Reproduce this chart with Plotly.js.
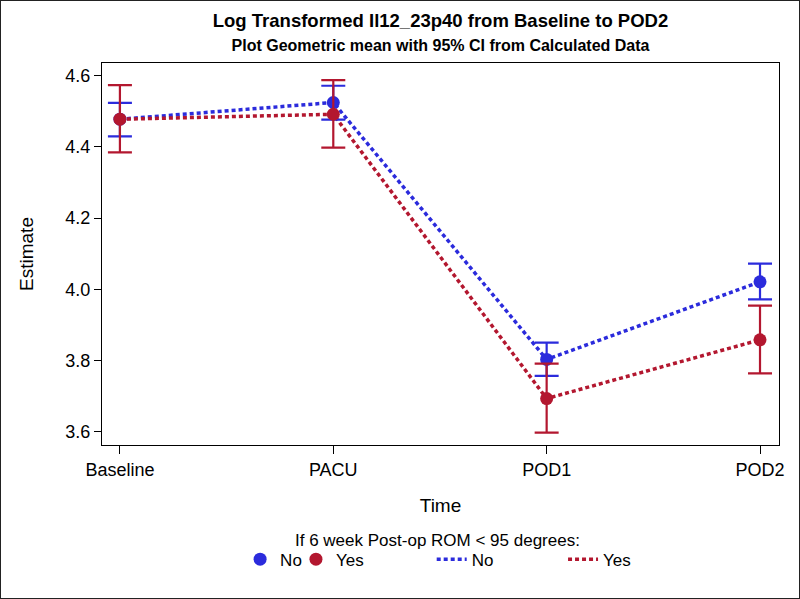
<!DOCTYPE html>
<html>
<head>
<meta charset="utf-8">
<script src="https://cdn.plot.ly/plotly-3.0.1.min.js"></script>
<style>
  body { margin: 0; background: #fff; }
  #plot { width: 798px; height: 597px; border: 1px solid #222; }
</style>
</head>
<body>
<div id="plot"></div>
<script>
////////// DATA ///////////////
const timePoints = ['Baseline', 'PACU', 'POD1', 'POD2'];

const estNo    = [4.478, 4.525, 3.803, 4.021];
const upperNo  = [4.524, 4.572, 3.850, 4.072];
const lowerNo  = [4.430, 4.477, 3.757, 3.972];

const estYes   = [4.478, 4.492, 3.693, 3.858];
const upperYes = [4.574, 4.588, 3.791, 3.954];
const lowerYes = [4.385, 4.398, 3.597, 3.764];

const yTicks = [3.6, 3.8, 4.0, 4.2, 4.4, 4.6];

////////// STYLE ///////////////
const blue = '#2b2bdc';
const red = '#b3172f';
const fontFam = '"Liberation Sans", Arial, sans-serif';

// asymmetric error bar lengths from the CI limits
function plus(up, est) { return up.map(function(u, i) { return u - est[i]; }); }
function minus(lo, est) { return lo.map(function(l, i) { return est[i] - l; }); }

// each legend entry gets its own legend so the spacing can follow the SAS one
let data = [
  {
    x: timePoints, y: estNo, type: 'scatter', mode: 'lines', name: 'No',
    legend: 'legend3',
    line: { color: blue, width: 3.5, dash: '4px,3px' }
  },
  {
    x: timePoints, y: estYes, type: 'scatter', mode: 'lines', name: 'Yes',
    legend: 'legend4',
    line: { color: red, width: 3.5, dash: '4px,3px' }
  },
  {
    x: timePoints, y: estNo, type: 'scatter', mode: 'markers', name: 'No',
    legend: 'legend',
    marker: { color: blue, size: 13 },
    error_y: { type: 'data', symmetric: false, array: plus(upperNo, estNo),
               arrayminus: minus(lowerNo, estNo), color: blue, thickness: 2.2, width: 12 }
  },
  {
    x: timePoints, y: estYes, type: 'scatter', mode: 'markers', name: 'Yes',
    legend: 'legend2',
    marker: { color: red, size: 13 },
    error_y: { type: 'data', symmetric: false, array: plus(upperYes, estYes),
               arrayminus: minus(lowerYes, estYes), color: red, thickness: 2.2, width: 12 }
  }
];

function legendAt(xPos) {
  return {
    orientation: 'h',
    x: xPos, xanchor: 'left',
    y: -0.30, yanchor: 'middle',
    font: { size: 17 },
    itemclick: false,
    bgcolor: 'rgba(0,0,0,0)'
  };
}

let layout = {
  width: 798,
  height: 597,
  margin: { l: 101, r: 20, t: 62, b: 153 },
  paper_bgcolor: '#fff',
  plot_bgcolor: '#fff',
  font: { family: fontFam, size: 18, color: '#000' },
  showlegend: true,
  title: {
    text: '<b>Log Transformed Il12_23p40 from Baseline to POD2</b><br>' +
          '<span style="font-size:16px"><b>Plot Geometric mean with 95% CI from Calculated Data</b></span>',
    font: { family: fontFam, size: 18.5, color: '#000' },
    x: 0.5, xref: 'paper', xanchor: 'center',
    y: 0.957, yref: 'container', yanchor: 'middle'
  },
  xaxis: {
    type: 'category',
    range: [-0.084, 3.089],
    title: { text: 'Time', font: { size: 19 }, standoff: 20 },
    ticks: 'outside', ticklen: 8, tickcolor: '#000',
    tickfont: { size: 18 },
    showline: true, mirror: true, linecolor: '#000', linewidth: 1,
    showgrid: false, zeroline: false
  },
  yaxis: {
    range: [3.5625, 4.636],
    tickvals: yTicks,
    tickformat: '.1f',
    title: { text: 'Estimate', font: { size: 19 }, standoff: 26 },
    ticks: 'outside', ticklen: 7, tickcolor: '#000',
    tickfont: { size: 18 },
    showline: true, mirror: true, linecolor: '#000', linewidth: 1,
    showgrid: false, zeroline: false
  },
  legend: legendAt(0.204),
  legend2: legendAt(0.2865),
  legend3: legendAt(0.487),
  legend4: legendAt(0.681),
  annotations: [{
    text: 'If 6 week Post-op ROM < 95 degrees:',
    xref: 'paper', yref: 'paper',
    x: 0.496, y: -0.249, xanchor: 'center', yanchor: 'middle',
    showarrow: false,
    font: { size: 17 }
  }]
};

Plotly.newPlot('plot', data, layout, { displayModeBar: false, staticPlot: true });
</script>
</body>
</html>
